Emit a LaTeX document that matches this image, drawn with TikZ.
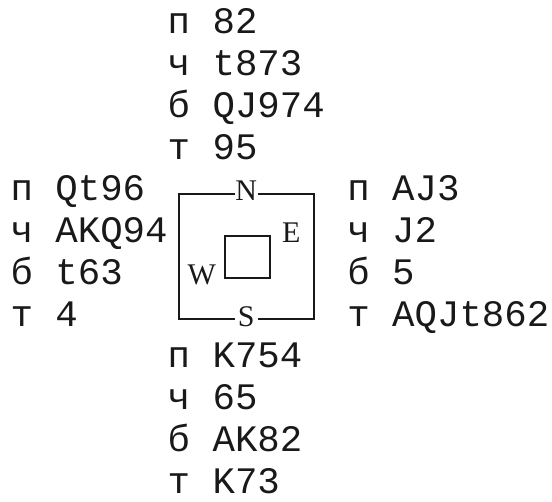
\documentclass[tikz,border=0pt]{standalone}
\usepackage{fontspec}
\newfontfamily\handmono{Liberation Mono}
\newfontfamily\dirserif{Liberation Serif}
\begin{document}
\begin{tikzpicture}[x=1pt,y=-1pt,
  hand/.style={anchor=base west,inner sep=0pt,outer sep=0pt,
    font=\handmono\fontsize{37.4}{42}\selectfont,text=black!90},
  dir/.style={anchor=base,inner sep=0pt,outer sep=0pt,
    font=\dirserif\fontsize{30}{36}\selectfont,text=black!90},
  boxline/.style={line width=2pt,black!90}]
\useasboundingbox (0,0) rectangle (552,502);
% grid: column left edge = 10.55 + 22.45*c ; baseline = 34 + 41.75*r
% North
\node[hand] (n1) at (167.7,34.00)  {п 82};
\node[hand] (n2) at (167.7,75.75)  {ч t873};
\node[hand] (n3) at (167.7,117.50) {б QJ974};
\node[hand] (n4) at (167.7,159.25) {т 95};
% West
\node[hand] (w1) at (10.55,201.00) {п Qt96};
\node[hand] (w2) at (10.55,242.75) {ч AKQ94};
\node[hand] (w3) at (10.55,284.50) {б t63};
\node[hand] (w4) at (10.55,326.25) {т 4};
% East
\node[hand] (e1) at (347.3,201.00) {п AJ3};
\node[hand] (e2) at (347.3,242.75) {ч J2};
\node[hand] (e3) at (347.3,284.50) {б 5};
\node[hand] (e4) at (347.3,326.25) {т AQJt862};
% South
\node[hand] (s1) at (167.7,368.00) {п K754};
\node[hand] (s2) at (167.7,409.75) {ч 65};
\node[hand] (s3) at (167.7,451.50) {б AK82};
\node[hand] (s4) at (167.7,493.25) {т K73};
% compass letters
\node[dir] (N) at (246.3,201.00) {N};
\node[dir] (E) at (291.2,242.75) {E};
\node[dir] (W) at (201.8,284.50) {W};
\node[dir] (S) at (246.3,326.25) {S};
% table frame
\coordinate (tl) at (178.9,194.0);
\coordinate (tr) at (313.6,194.0);
\coordinate (bl) at (178.9,319.3);
\coordinate (br) at (313.6,319.3);
\coordinate (nl) at (235.0,194.0);
\coordinate (nr) at (257.5,194.0);
\coordinate (sl) at (235.0,319.3);
\coordinate (sr) at (257.5,319.3);
\draw[boxline] (nl) -- (tl) -- (bl) -- (sl);
\draw[boxline] (nr) -- (tr) -- (br) -- (sr);
% inner square
\draw[boxline] (224.8,236.0) rectangle (269.7,278.0);
\end{tikzpicture}
\end{document}
